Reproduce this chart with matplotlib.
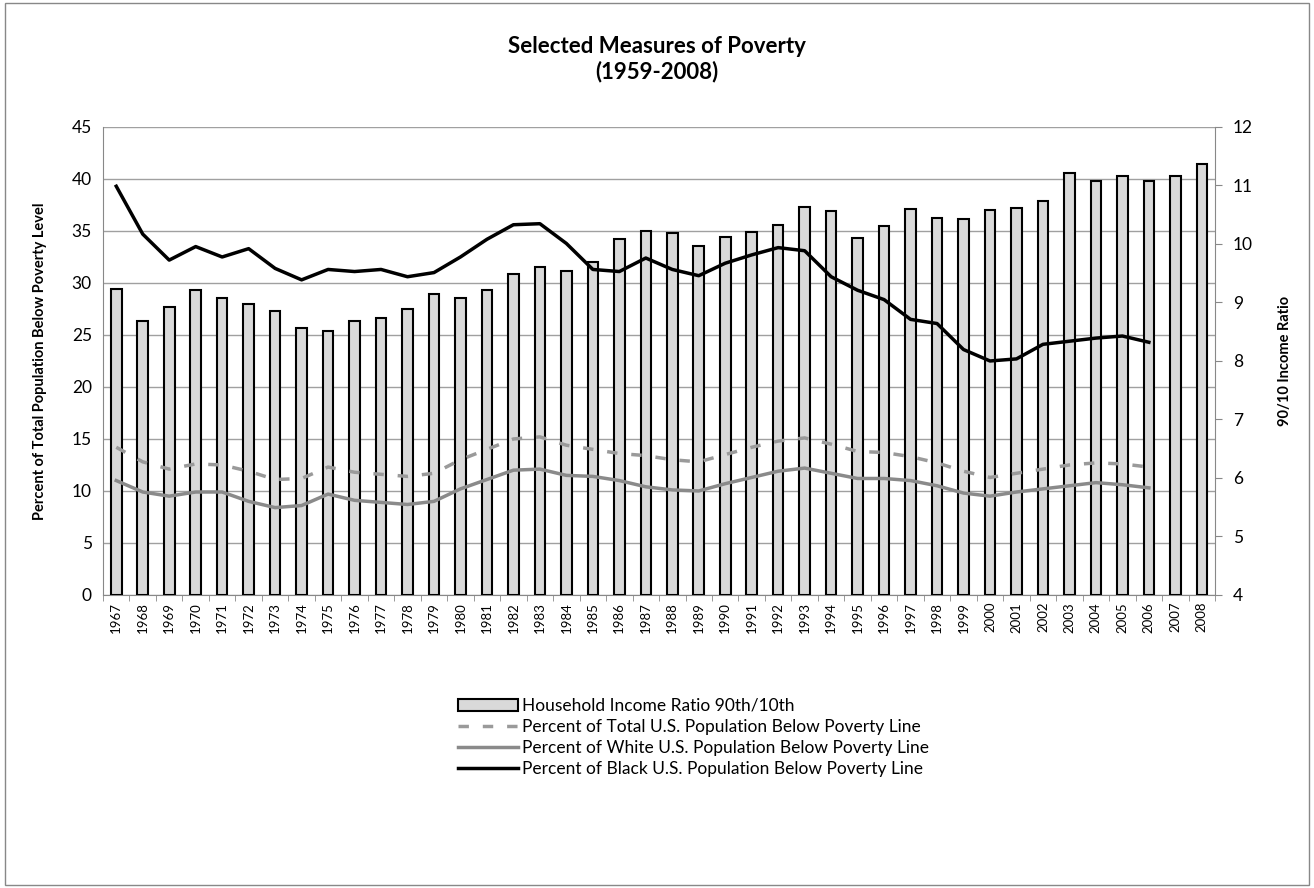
import numpy as np
import matplotlib
matplotlib.use("Agg")
import matplotlib.pyplot as plt
from matplotlib.patches import Patch, Rectangle
from matplotlib.lines import Line2D

plt.rcParams['font.family'] = ['Lato', 'DejaVu Sans']

years = list(range(1967, 2009))

# 90/10 household income ratio (right axis)
income_ratio = [9.23, 8.68, 8.92, 9.21, 9.07, 8.98, 8.85, 8.57, 8.52, 8.69,
                8.73, 8.89, 9.14, 9.08, 9.21, 9.48, 9.60, 9.53, 9.69, 10.08,
                10.22, 10.19, 9.97, 10.12, 10.20, 10.33, 10.63, 10.56, 10.10, 10.31,
                10.60, 10.44, 10.42, 10.58, 10.61, 10.74, 11.22, 11.08, 11.16, 11.08,
                11.16, 11.36]

# poverty rates 1967-2006 (left axis)
pov_years = list(range(1967, 2007))
pov_total = [14.2, 12.8, 12.1, 12.6, 12.5, 11.9, 11.1, 11.2, 12.3, 11.8,
             11.6, 11.4, 11.7, 13.0, 14.0, 15.0, 15.2, 14.4, 14.0, 13.6,
             13.4, 13.0, 12.8, 13.5, 14.2, 14.8, 15.1, 14.5, 13.8, 13.7,
             13.3, 12.7, 11.9, 11.3, 11.7, 12.1, 12.5, 12.7, 12.6, 12.3]
pov_white = [11.0, 9.9, 9.5, 9.9, 9.9, 9.0, 8.4, 8.6, 9.7, 9.1,
             8.9, 8.7, 9.0, 10.2, 11.1, 12.0, 12.1, 11.5, 11.4, 11.0,
             10.4, 10.1, 10.0, 10.7, 11.3, 11.9, 12.2, 11.7, 11.2, 11.2,
             11.0, 10.5, 9.8, 9.5, 9.9, 10.2, 10.5, 10.8, 10.6, 10.3]
pov_black = [39.3, 34.7, 32.2, 33.5, 32.5, 33.3, 31.4, 30.3, 31.3, 31.1,
             31.3, 30.6, 31.0, 32.5, 34.2, 35.6, 35.7, 33.8, 31.3, 31.1,
             32.4, 31.3, 30.7, 31.9, 32.7, 33.4, 33.1, 30.6, 29.3, 28.4,
             26.5, 26.1, 23.6, 22.5, 22.7, 24.1, 24.4, 24.7, 24.9, 24.3]

x = np.arange(len(years))
xp = np.arange(len(pov_years))

fig = plt.figure(figsize=(13.14, 8.88), dpi=100)
ax = fig.add_axes([0.0784, 0.33, 0.8463, 0.527])

# left axis: grid + labels
ax.set_ylim(0, 45)
ax.set_yticks(np.arange(0, 46, 5))
ax.yaxis.grid(True, color='#a0a0a0', lw=1)
ax.set_axisbelow(True)
ax.set_xlim(-0.5, len(years) - 0.5)
ax.set_xticks(x)
ax.set_xticklabels([str(y) for y in years], rotation=90, fontsize=9.5)
ax.set_xticks(np.arange(-0.5, len(years), 1), minor=True)
ax.tick_params(axis='x', which='major', length=0, pad=5)
ax.tick_params(axis='x', which='minor', length=4, color='#888888')
ax.tick_params(axis='y', length=0, labelsize=12.5, pad=8)
ax.set_ylabel('Percent of Total Population Below Poverty Level', fontsize=10.5,
              fontweight='bold', labelpad=18)
for s in ['top', 'right']:
    ax.spines[s].set_visible(False)
ax.spines['left'].set_color('#888888')
ax.spines['bottom'].set_color('#888888')

# right axis: bars
ax2 = ax.twinx()
ax2.set_ylim(4, 12)
ax2.set_yticks(np.arange(4, 13, 1))
ax2.bar(x, np.array(income_ratio) - 4, bottom=4, width=0.4, color='#d9d9d9',
        edgecolor='black', lw=1.5)
ax2.tick_params(axis='y', length=5, color='#888888', labelsize=12.5, pad=8)
ax2.set_ylabel('90/10 Income Ratio', fontsize=10.5, fontweight='bold', labelpad=18)
for s in ['top', 'left', 'bottom']:
    ax2.spines[s].set_visible(False)
ax2.spines['right'].set_color('#888888')

# lines on top of bars
ax3 = ax.twinx()
ax3.set_ylim(0, 45)
ax3.axis('off')
ax3.plot(xp, pov_total, color='#9a9a9a', lw=2.5, dashes=(3, 4))
ax3.plot(xp, pov_white, color='#8a8a8a', lw=2.5)
ax3.plot(xp, pov_black, color='black', lw=2.5)

fig.suptitle('Selected Measures of Poverty\n(1959-2008)', fontsize=16,
             fontweight='bold', y=0.960, linespacing=1.25)

handles = [Patch(facecolor='#d9d9d9', edgecolor='black', lw=1.5),
           Line2D([], [], color='#9a9a9a', lw=2.5, dashes=(3, 4)),
           Line2D([], [], color='#8a8a8a', lw=2.5),
           Line2D([], [], color='black', lw=2.5)]
labels = ['Household Income Ratio 90th/10th',
          'Percent of Total U.S. Population Below Poverty Line',
          'Percent of White U.S. Population Below Poverty Line',
          'Percent of Black U.S. Population Below Poverty Line']
fig.legend(handles, labels, loc='upper left', bbox_to_anchor=(0.343, 0.222),
           frameon=False, fontsize=12.5, handlelength=3.5, handletextpad=0.2,
           labelspacing=0.3, borderaxespad=0)

fig.add_artist(Rectangle((0.004, 0.003), 0.992, 0.994, transform=fig.transFigure,
                         fill=False, edgecolor='#888888', lw=1))

fig.savefig('out.png', dpi=100)
